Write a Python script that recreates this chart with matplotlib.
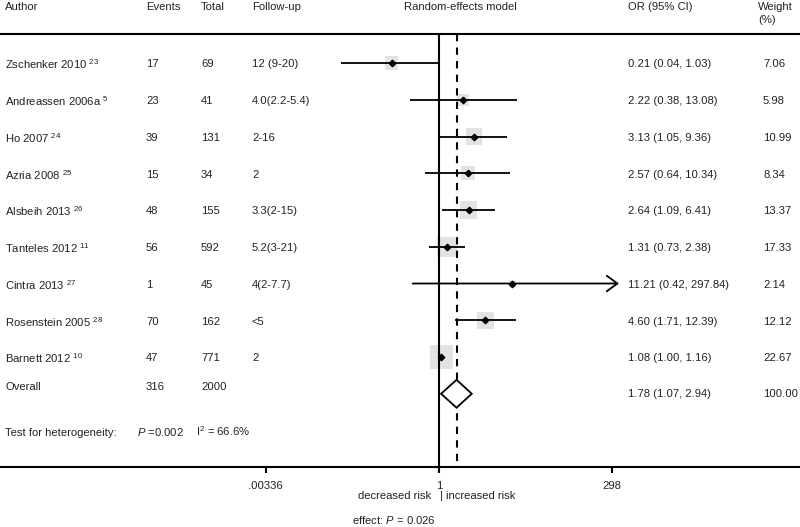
import numpy as np
import matplotlib
matplotlib.use("Agg")
import matplotlib.pyplot as plt

plt.rcParams['font.family'] = ['Liberation Sans', 'DejaVu Sans']
plt.rcParams['mathtext.fontset'] = 'custom'
plt.rcParams['mathtext.rm'] = 'Liberation Sans'
plt.rcParams['mathtext.it'] = 'Liberation Sans:italic'

# данные исследований
authors = ['Zschenker 2010', 'Andreassen 2006a', 'Ho 2007', 'Azria 2008', 'Alsbeih 2013',
           'Tanteles 2012', 'Cintra 2013', 'Rosenstein 2005', 'Barnett 2012']
refs = ['23', '5', '24', '25', '26', '11', '27', '28', '10']
events = [17, 23, 39, 15, 48, 56, 1, 70, 47]
totals = [69, 41, 131, 34, 155, 592, 45, 162, 771]
followup = ['12 (9-20)', '4.0(2.2-5.4)', '2-16', '2', '3.3(2-15)', '5.2(3-21)', '4(2-7.7)', '<5', '2']
odds = [0.21, 2.22, 3.13, 2.57, 2.64, 1.31, 11.21, 4.60, 1.08]
ci_low = [0.04, 0.38, 1.05, 0.64, 1.09, 0.73, 0.42, 1.71, 1.00]
ci_high = [1.03, 13.08, 9.36, 10.34, 6.41, 2.38, 297.84, 12.39, 1.16]
weights = [7.06, 5.98, 10.99, 8.34, 13.37, 17.33, 2.14, 12.12, 22.67]

overall_events = 316
overall_total = 2000
overall_or = 1.78
overall_low = 1.07
overall_high = 2.94
axis_ticks = [0.00336, 1, 298]
axis_labels = ['.00336', '1', '298']

txt = '#222222'
fs = 8.1

fig = plt.figure(figsize=(8, 5.27), dpi=100)
ax = fig.add_axes([0, 0, 1, 1])
ax.set_xscale('log')
# 1 -> 439 px, ~30.4 px на единицу ln
k = 30.4
ax.set_xlim(np.exp(-439 / k), np.exp((800 - 439) / k))
# строка 0 -> 63 px, шаг 36.75 px
step = 36.75
ax.set_ylim((527 - 63) / step, -63 / step)
ax.axis('off')

top = -0.79
bottom = 10.99
ax.axhline(top, color='black', lw=1.5)
ax.axhline(bottom, color='black', lw=1.5)
ax.vlines(1, top, bottom, color='black', lw=1.5, zorder=3)
ax.vlines(overall_or, top, bottom, color='black', lw=1.5, linestyles=(0, (3.5, 3)), zorder=3)

rows = np.arange(len(authors))
ax.scatter(odds, rows, s=np.array(weights) * 12.5, marker='s', color='#e3e3e3',
           edgecolors='none', zorder=1)
for i in rows:
    if ci_high[i] > 200:
        ax.annotate('', xy=(ci_high[i] * 1.25, i), xytext=(ci_low[i], i),
                    arrowprops=dict(arrowstyle='->,head_length=0.55,head_width=0.4',
                                    lw=1.3, color='black', mutation_scale=14,
                                    shrinkA=0, shrinkB=0), zorder=4)
    else:
        ax.hlines(i, ci_low[i], ci_high[i], color='black', lw=1.3, zorder=4)
ax.plot(odds, rows, 'D', color='black', ms=3.3, zorder=5)

# общий эффект
oy = 9.0
h = 0.38
ax.fill([overall_low, overall_or, overall_high, overall_or, overall_low],
        [oy, oy - h, oy, oy + h, oy], facecolor='white', edgecolor='black', lw=1.3, zorder=6)

# тики оси
for t, lab in zip(axis_ticks, axis_labels):
    ax.vlines(t, bottom, bottom + 0.17, color='black', lw=1.5)
    ax.text(t, bottom + 0.52, lab, ha='center', va='center', fontsize=fs, color=txt)
ax.text(0.78, bottom + 0.78, 'decreased risk', ha='right', va='center', fontsize=fs, color=txt)
ax.text(1.03, bottom + 0.78, '| increased risk', ha='left', va='center', fontsize=fs, color=txt)
ax.text(352 / 800, bottom + 1.44, 'effect: $\\it{P}$ = 0.026', ha='left', va='center',
        fontsize=fs, color=txt, transform=ax.get_yaxis_transform())

# таблица
tr = ax.get_yaxis_transform()
col_author = 5 / 800
col_events = 146 / 800
col_total = 201 / 800
col_fu = 252 / 800
col_or = 628 / 800
col_w = 763 / 800

hy = -1.52
ax.text(col_author, hy, 'Author', fontsize=fs, color=txt, va='center', transform=tr)
ax.text(col_events, hy, 'Events', fontsize=fs, color=txt, va='center', transform=tr)
ax.text(col_total, hy, 'Total', fontsize=fs, color=txt, va='center', transform=tr)
ax.text(col_fu, hy, 'Follow-up', fontsize=fs, color=txt, va='center', transform=tr)
ax.text(460 / 800, hy, 'Random-effects model', fontsize=fs, color=txt, va='center',
        ha='center', transform=tr)
ax.text(col_or, hy, 'OR (95% CI)', fontsize=fs, color=txt, va='center', transform=tr)
ax.text(758 / 800, hy, 'Weight', fontsize=fs, color=txt, va='center', transform=tr)
ax.text(758 / 800, hy + 0.36, '(%)', fontsize=fs, color=txt, va='center', transform=tr)

for i in rows:
    ty = i + 0.04
    ax.text(col_author, ty, authors[i] + ' $^{' + refs[i] + '}$', fontsize=fs, color=txt,
            va='center', transform=tr)
    ax.text(col_events, ty, str(events[i]), fontsize=fs, color=txt, va='center', transform=tr)
    ax.text(col_total, ty, str(totals[i]), fontsize=fs, color=txt, va='center', transform=tr)
    ax.text(col_fu, ty, followup[i], fontsize=fs, color=txt, va='center', transform=tr)
    ax.text(col_or, ty, '%.2f (%.2f, %.2f)' % (odds[i], ci_low[i], ci_high[i]), fontsize=fs,
            color=txt, va='center', transform=tr)
    ax.text(col_w, ty, '%.2f' % weights[i], fontsize=fs, color=txt, va='center', transform=tr)

ovy = 8.82
ax.text(col_author, ovy, 'Overall', fontsize=fs, color=txt, va='center', transform=tr)
ax.text(col_events, ovy, str(overall_events), fontsize=fs, color=txt, va='center', transform=tr)
ax.text(col_total, ovy, str(overall_total), fontsize=fs, color=txt, va='center', transform=tr)
ax.text(col_or, 9.0, '%.2f (%.2f, %.2f)' % (overall_or, overall_low, overall_high),
        fontsize=fs, color=txt, va='center', transform=tr)
ax.text(col_w, 9.0, '100.00', fontsize=fs, color=txt, va='center', transform=tr)

# гетерогенность (по базовой линии)
hb = 10.14
ax.text(col_author, hb, 'Test for heterogeneity:', fontsize=fs, color=txt, va='baseline', transform=tr)
ax.text(137 / 800, hb, '$\\it{P}$ =0.002', fontsize=fs, color=txt, va='baseline', transform=tr)
ax.text(196 / 800, hb, 'I$^2$ = 66.6%', fontsize=fs, color=txt, va='baseline', transform=tr)

plt.savefig('out.png', dpi=100)
